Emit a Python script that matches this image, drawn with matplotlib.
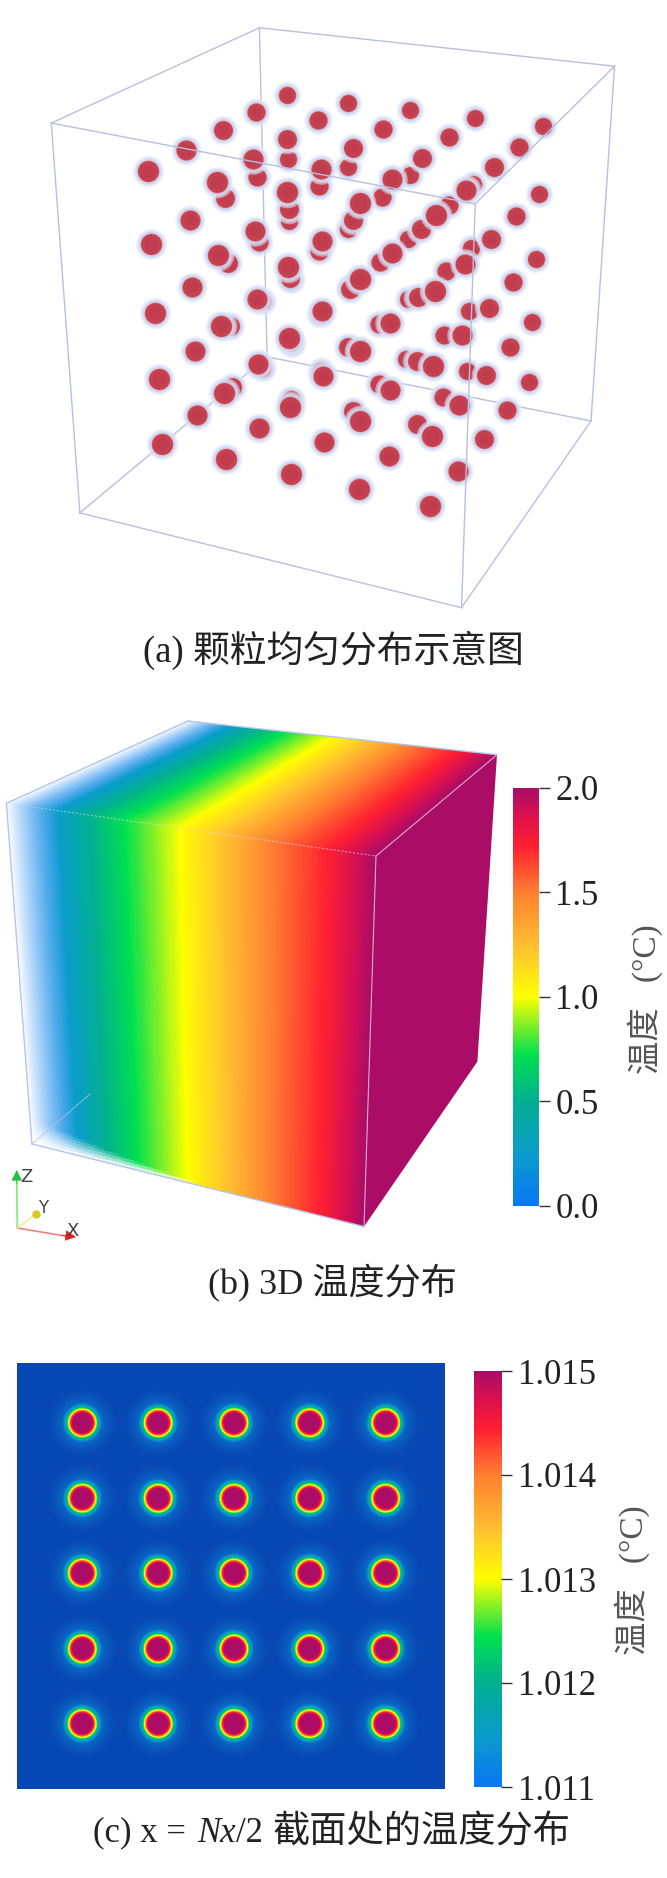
"""Three panel figure: particles in a box, 3D temperature field, mid-plane section."""
import numpy as np
import matplotlib
matplotlib.use("Agg")
import matplotlib.pyplot as plt
from matplotlib.colors import LinearSegmentedColormap

W, H = 667, 1878
SERIF = ["Liberation Serif", "Noto Sans CJK SC"]
plt.rcParams["font.family"] = SERIF

# --- Panel a : particle positions (layer top to bottom, row back to front)
LAYER1_X = [671, 814, 960, 1111, 1270, 598, 744, 896, 1051, 1214, 521, 671, 826, 988, 1155, 436, 592, 752, 918, 1091, 347, 507, 671, 843, 1021]
LAYER1_Y = [222, 240, 258, 277, 296, 262, 281, 301, 321, 343, 305, 326, 346, 369, 391, 350, 373, 396, 420, 445, 401, 425, 450, 476, 502]
LAYER2_X = [674, 814, 960, 1107, 1262, 602, 746, 894, 1050, 1207, 527, 676, 826, 984, 1149, 444, 597, 753, 917, 1087, 354, 510, 674, 843, 1018]
LAYER2_Y = [372, 391, 410, 430, 454, 415, 436, 460, 480, 505, 464, 490, 515, 535, 560, 514, 540, 565, 592, 617, 570, 596, 624, 653, 681]
LAYER3_X = [677, 814, 955, 1102, 1254, 607, 746, 890, 1043, 1200, 533, 679, 820, 978, 1144, 449, 602, 753, 912, 1080, 363, 518, 677, 843, 1013]
LAYER3_Y = [517, 537, 560, 580, 606, 566, 587, 612, 634, 661, 616, 650, 677, 694, 720, 671, 700, 727, 756, 785, 732, 762, 791, 822, 856]
LAYER4_X = [680, 818, 955, 1097, 1245, 612, 748, 888, 1040, 1193, 538, 680, 815, 975, 1137, 457, 604, 755, 912, 1075, 372, 523, 679, 843, 1010]
LAYER4_Y = [655, 672, 700, 727, 753, 705, 735, 758, 785, 813, 762, 800, 812, 845, 877, 822, 852, 881, 913, 947, 888, 920, 952, 986, 1021]
LAYER5_X = [683, 822, 950, 1093, 1239, 612, 752, 888, 1036, 1187, 542, 681, 826, 975, 1132, 461, 607, 757, 911, 1072, 379, 528, 682, 841, 1007]
LAYER5_Y = [805, 818, 840, 868, 894, 860, 868, 898, 928, 959, 905, 935, 962, 993, 1027, 971, 1002, 1034, 1067, 1102, 1040, 1074, 1109, 1145, 1183]
LAYERS_X = [LAYER1_X, LAYER2_X, LAYER3_X, LAYER4_X, LAYER5_X]
LAYERS_Y = [LAYER1_Y, LAYER2_Y, LAYER3_Y, LAYER4_Y, LAYER5_Y]
ROW_RADII = [8.4, 8.9, 9.3, 9.8, 10.4]
A_SCALE = 2.34

BOX_A_BACK = [((607, 65), (1438, 155)), ((607, 65), (625, 835)), ((625, 835), (1383, 985)),
              ((187, 1200), (625, 835)), ((1438, 155), (1383, 985))]
BOX_A_FRONT = [((120, 288), (607, 65)), ((120, 288), (1112, 477)), ((1112, 477), (1438, 155)),
               ((120, 288), (187, 1200)), ((1112, 477), (1080, 1422)), ((187, 1200), (1080, 1422)),
               ((1080, 1422), (1383, 985))]

# --- Panel b : cube corners, in figure pixels
CUBE_A = (6.4, 803.3)
CUBE_B = (188, 721)
CUBE_C = (497, 754.7)
CUBE_D = (376, 856)
CUBE_E = (32, 1144)
CUBE_F = (364, 1226.6)
CUBE_G = (477.4, 1061.6)
# temperature read along the front face, left to right
FACE_U = [0, 0.1, 0.225, 0.32, 0.47, 0.72, 0.87, 1]
FACE_T = [0, 0.12, 0.5, 0.72, 1.0, 1.5, 1.72, 2.0]

TICKS_B = [0.0, 0.5, 1.0, 1.5, 2.0]
TICKS_C = [1.011, 1.012, 1.013, 1.014, 1.015]

# --- Panel c : particle sections, and the temperature around one of them
CENTERS_X = [82, 158, 234, 310, 386]
CENTERS_Y = [1422.4, 1498, 1573, 1649, 1724]
PROFILE_R = [0, 10, 11.5, 12.5, 13.5, 15, 16, 17.5, 20, 26, 34]
PROFILE_T = [1.015, 1.01495, 1.01444, 1.0140, 1.0131, 1.01244, 1.0119, 1.01148, 1.0110, 1.01075, 1.0105]

STOPS = [0, 0.12, 0.25, 0.36, 0.5, 0.62, 0.75, 0.86, 0.94, 1]
STOP_COLORS = ["#0a78f4", "#0a9ccc", "#02b090", "#00e050", "#ffff00", "#ffc030",
               "#ff8030", "#ff2030", "#d81050", "#aa0c68"]
RAINBOW = LinearSegmentedColormap.from_list("rainbow_t", list(zip(STOPS, STOP_COLORS)))
# same scale, with the darker blue of the section background below 1.011
SECTION_STOPS = [0.0] + [(0.5 + 4 * s) / 4.5 for s in STOPS[:-1]] + [1.0]
SECTION = LinearSegmentedColormap.from_list(
    "section_t", list(zip(SECTION_STOPS, ["#0848b4", "#0a66c4"] + STOP_COLORS[1:])))

fig = plt.figure(figsize=(W / 100, H / 100), dpi=100, facecolor="white")


def px_axes(x0, y0, x1, y1):
    return fig.add_axes([x0 / W, 1 - y1 / H, (x1 - x0) / W, (y1 - y0) / H])


def add_colorbar(x0, y0, x1, y1, vmin, vmax, ticks, fmt):
    cax = px_axes(x0, y0, x1, y1)
    grad = np.linspace(vmax, vmin, 400).reshape(-1, 1)
    cax.imshow(grad, cmap=RAINBOW, aspect="auto", extent=(0, 1, vmin, vmax))
    cax.set_xticks([])
    cax.set_yticks(ticks)
    cax.set_yticklabels([fmt.format(t) for t in ticks], fontsize=25, color="#222222")
    cax.yaxis.tick_right()
    cax.tick_params(axis="y", length=8, width=1, color="#333333", pad=4)
    for s in cax.spines.values():
        s.set_visible(False)


main = fig.add_axes([0, 0, 1, 1])
main.set_xlim(0, W)
main.set_ylim(H, 0)
main.axis("off")

# --- (a) particules
LINE_A = "#b9bfdf"
for p, q in BOX_A_BACK:
    main.plot([p[0] / A_SCALE, q[0] / A_SCALE], [p[1] / A_SCALE, q[1] / A_SCALE], color=LINE_A, lw=1, zorder=1)

GLOW = [(5.5, "#e6ebfb", 0.5), (4.0, "#d6dff8", 0.6), (2.5, "#c9d5f5", 0.8), (1.2, "#d8d4ea", 1.0),
        (0.7, "#e0a8a8", 1.0), (0.2, "#cc5a66", 1.0), (-0.4, "#c54150", 1.0), (-4.0, "#c03c4e", 1.0)]
z = 2.0
for row in range(5):
    for layer in range(4, -1, -1):
        for col in range(5):
            k = row * 5 + col
            x = LAYERS_X[layer][k] / A_SCALE
            y = LAYERS_Y[layer][k] / A_SCALE
            for dr, color, alpha in GLOW:
                d = 2 * (ROW_RADII[row] + dr) * 0.72
                main.scatter([x], [y], s=d * d, color=color, alpha=alpha, linewidths=0, zorder=z)
                z += 0.0001

for p, q in BOX_A_FRONT:
    main.plot([p[0] / A_SCALE, q[0] / A_SCALE], [p[1] / A_SCALE, q[1] / A_SCALE], color=LINE_A, lw=1, zorder=5)

# --- (b) cube : faces en degrade, du cote froid (transparent) au cote chaud


def face(p00, p10, p01, p11, bottom_fade=False, n=260, m=120):
    u = np.linspace(0, 1, n + 1)
    v = np.linspace(0, 1, m + 1)
    uu, vv = np.meshgrid(u, v)
    xs = (1 - vv) * ((1 - uu) * p00[0] + uu * p10[0]) + vv * ((1 - uu) * p01[0] + uu * p11[0])
    ys = (1 - vv) * ((1 - uu) * p00[1] + uu * p10[1]) + vv * ((1 - uu) * p01[1] + uu * p11[1])
    um, vm = np.meshgrid((u[:-1] + u[1:]) / 2, (v[:-1] + v[1:]) / 2)
    temp = np.interp(um, FACE_U, FACE_T)
    rgb = RAINBOW(temp / 2.0)[..., :3]
    opacity = np.clip(um / 0.14, 0, 1) ** 0.9
    if bottom_fade:
        width = np.maximum(0.07 * (1 - temp / 1.1), 1e-3)
        opacity = opacity * np.clip((1 - vm) / width, 0, 1)
    rgb = opacity[..., None] * rgb + (1 - opacity[..., None])
    main.pcolormesh(xs, ys, rgb, shading="flat", antialiased=False, linewidth=0, rasterized=True, zorder=1)


face(CUBE_A, CUBE_D, CUBE_E, CUBE_F, bottom_fade=True)
face(CUBE_B, CUBE_C, CUBE_A, CUBE_D)
main.fill([CUBE_D[0], CUBE_C[0], CUBE_G[0], CUBE_F[0]], [CUBE_D[1], CUBE_C[1], CUBE_G[1], CUBE_F[1]],
          color="#ab0d66", lw=0, zorder=1)

LINE_B = "#b4c4ea"
for p, q in [(CUBE_A, CUBE_B), (CUBE_B, CUBE_C), (CUBE_A, CUBE_E), (CUBE_E, CUBE_F)]:
    main.plot([p[0], q[0]], [p[1], q[1]], color=LINE_B, lw=1, zorder=3)
main.plot([CUBE_A[0], CUBE_D[0]], [CUBE_A[1], CUBE_D[1]], color="#d8dcee", lw=0.8, ls=(0, (2, 1.5)), alpha=0.6, zorder=3)
main.plot([CUBE_D[0], CUBE_F[0]], [CUBE_D[1], CUBE_F[1]], color="#e0a8cc", lw=0.8, zorder=3)
main.plot([CUBE_D[0], CUBE_C[0]], [CUBE_D[1], CUBE_C[1]], color="#e0a8cc", lw=0.8, zorder=3)
main.plot([CUBE_E[0], 90], [CUBE_E[1], 1094], color=LINE_B, lw=0.8, alpha=0.7, zorder=3)

# reperes X Y Z
main.plot([17.3, 16.7], [1228, 1180], color="#80e880", lw=1.2, zorder=3)
main.plot([17.3, 65], [1228, 1236], color="#f08080", lw=1.2, zorder=3)
main.plot([17.3, 36], [1228, 1214], color="#f4ec90", lw=1.2, zorder=3)
main.annotate("", xy=(16.7, 1170), xytext=(16.8, 1184), zorder=4,
              arrowprops=dict(arrowstyle="-|>", color="#22c040", lw=0.5, mutation_scale=17, shrinkA=0, shrinkB=0))
main.annotate("", xy=(76, 1237), xytext=(62, 1235), zorder=4,
              arrowprops=dict(arrowstyle="-|>", color="#e02020", lw=0.5, mutation_scale=17, shrinkA=0, shrinkB=0))
main.scatter([36], [1214], s=36, color="#d8c820", linewidths=0, zorder=4)
main.text(26, 1177, "Z", fontsize=13, color="#444444", family="DejaVu Sans", ha="center", va="center", zorder=5)
main.text(43, 1208, "Y", fontsize=12, color="#444444", family="DejaVu Sans", ha="center", va="center", zorder=5)
main.text(72.7, 1230.7, "X", fontsize=13, color="#444444", family="DejaVu Sans", ha="center", va="center", zorder=5)

add_colorbar(513, 787.6, 538.5, 1206, 0.0, 2.0, TICKS_B, "{:.1f}")
main.text(645, 999.5, "温度   (°C)", rotation=90, fontsize=24, color="#555555", ha="center", va="center")

# --- (c) coupe a x = Nx/2
sec = px_axes(17, 1363, 445, 1789)
xx, yy = np.meshgrid(np.linspace(17, 445, 428), np.linspace(1363, 1789, 426))
dist = np.min([np.hypot(xx - cx, yy - cy) for cx in CENTERS_X for cy in CENTERS_Y], axis=0)
field = np.interp(dist, PROFILE_R, PROFILE_T)
sec.imshow(field, cmap=SECTION, vmin=1.0105, vmax=1.015, aspect="auto", extent=(17, 445, 1789, 1363), interpolation="bilinear")
sec.axis("off")

add_colorbar(474, 1371, 501, 1787, 1.011, 1.015, TICKS_C, "{:.3f}")
main.text(632, 1580, "温度   (°C)", rotation=90, fontsize=24, color="#555555", ha="center", va="center")

# --- legendes
main.text(333, 650, "(a) 颗粒均匀分布示意图", fontsize=26.5, color="#222222", ha="center", va="center")
main.text(332, 1283.5, "(b) 3D 温度分布", fontsize=26, color="#222222", ha="center", va="center")
main.text(93, 1833, "(c) x = ", fontsize=25, color="#222222", ha="left", va="center")
main.text(197, 1833, "Nx", fontsize=25, style="italic", color="#222222", ha="left", va="center")
main.text(236, 1833, "/2", fontsize=25, color="#222222", ha="left", va="center")
main.text(273, 1833, "截面处的温度分布", fontsize=26.8, color="#222222", ha="left", va="center")

fig.savefig("out.png", dpi=100, facecolor="white")
plt.close(fig)
